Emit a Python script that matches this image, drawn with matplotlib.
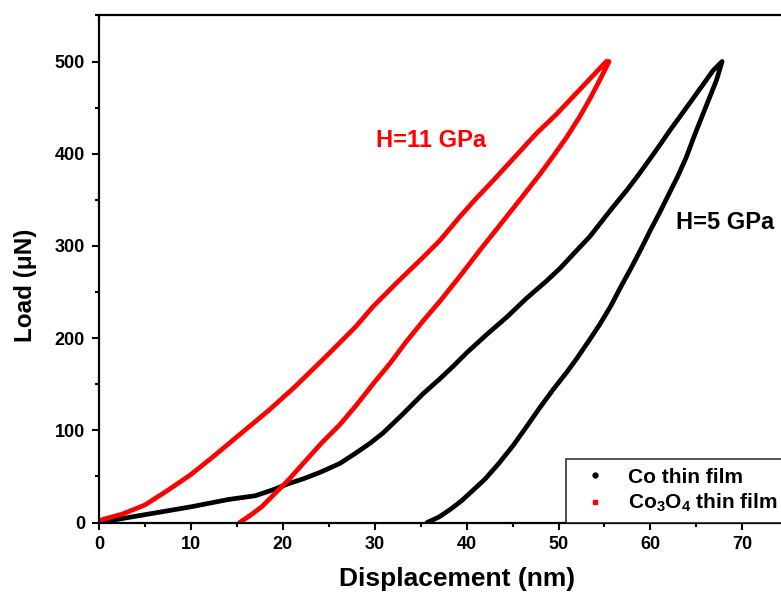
import matplotlib
matplotlib.use("Agg")
import matplotlib.pyplot as plt
from matplotlib.lines import Line2D
from matplotlib.ticker import MultipleLocator

plt.rcParams['font.family'] = ['Liberation Sans', 'DejaVu Sans']
plt.rcParams['font.weight'] = 'bold'
plt.rcParams['mathtext.fontset'] = 'custom'
plt.rcParams['mathtext.rm'] = 'Liberation Sans:bold'
plt.rcParams['mathtext.bf'] = 'Liberation Sans:bold'
plt.rcParams['mathtext.it'] = 'Liberation Sans:bold'

# Co3O4 thin film: loading then unloading
co3o4_load_x = [0, 0.3, 2.5, 5.0, 7.5, 10.0, 12.5, 15.5, 18.4, 21.3, 25.0, 27.9, 29.8, 32.5,
                35.3, 37.1, 39.3, 41.0, 42.9, 45.3, 47.6, 49.8, 51.6, 53.4, 55.2, 55.5]
co3o4_load_y = [0, 3, 9, 19, 35, 52, 72, 97, 121, 147, 183, 212, 234, 261,
                288, 306, 332, 351, 371, 397, 422, 443, 462, 481, 500, 500]
co3o4_unload_x = [55.5, 54.6, 53.5, 52.3, 50.9, 49.4, 48.0, 45.8, 43.5, 41.5, 39.5, 37.1, 35.3,
                  33.5, 31.7, 29.8, 27.9, 26.2, 24.2, 22.4, 20.6, 19.1, 17.7, 16.5, 15.3]
co3o4_unload_y = [500, 482, 461, 440, 418, 397, 378, 350, 321, 296, 270, 240, 219,
                  197, 173, 150, 126, 106, 86, 66, 46, 31, 17, 8, 0]

# Co thin film: loading then unloading
co_load_x = [0, 5.0, 10.0, 14.1, 17.0, 18.8, 20.6, 22.4, 24.2, 26.2, 27.9, 29.5, 30.9, 33.0,
             35.3, 37.0, 38.6, 40.0, 42.2, 44.4, 46.5, 48.7, 50.2, 51.6, 53.4, 54.5, 56.0,
             57.4, 58.7, 60.0, 61.0, 62.1, 63.2, 64.5, 65.8, 66.8, 67.8]
co_load_y = [0, 8.5, 17, 25, 29, 35, 42, 48, 55, 64, 75, 86, 97, 117,
             140, 155, 170, 184, 204, 223, 243, 262, 276, 291, 310, 324, 343,
             360, 377, 395, 409, 425, 440, 458, 476, 490, 500]
co_unload_x = [67.8, 67.2, 66.4, 65.6, 64.8, 63.9, 63.0, 62.0, 61.0, 60.0, 59.0, 57.9, 56.8,
               55.7, 54.5, 53.3, 52.0, 50.9, 49.4, 48.0, 46.6, 45.1, 43.5, 42.0, 40.7, 39.5,
               38.2, 37.0, 35.7]
co_unload_y = [500, 480, 460, 440, 420, 396, 376, 356, 336, 317, 297, 276, 256,
               235, 215, 197, 178, 163, 144, 125, 105, 84, 64, 47, 35, 24,
               14, 6, 0]

labels = ['Co thin film', r'Co$_{3}$O$_{4}$ thin film']
annot_11 = 'H=11 GPa'
annot_5 = 'H=5 GPa'

fig = plt.figure(figsize=(7.81, 5.95), dpi=100)
W, H = 781, 595
x0px, y0px, pxx, pxy = 99, 522.5, 9.19, 0.922
xmax, ymax = 75, 550
ax = fig.add_axes([x0px / W, (H - y0px) / H, xmax * pxx / W, ymax * pxy / H])

ax.plot(co_load_x + co_unload_x, co_load_y + co_unload_y, color='black', lw=3.4,
        solid_capstyle='round', solid_joinstyle='round')
ax.plot(co3o4_load_x + co3o4_unload_x, co3o4_load_y + co3o4_unload_y, color='red', lw=3.4,
        solid_capstyle='round', solid_joinstyle='round')

ax.set_xlim(0, xmax)
ax.set_ylim(0, ymax)
ax.xaxis.set_major_locator(MultipleLocator(10))
ax.xaxis.set_minor_locator(MultipleLocator(5))
ax.yaxis.set_major_locator(MultipleLocator(100))
ax.yaxis.set_minor_locator(MultipleLocator(50))
ax.tick_params(which='major', direction='out', length=5, width=1.5, labelsize=13, pad=5)
ax.tick_params(which='minor', direction='out', length=3, width=1.5)
for s in ax.spines.values():
    s.set_linewidth(1.6)
for lab in ax.get_xticklabels() + ax.get_yticklabels():
    lab.set_fontweight('bold')

ax.set_xlabel('Displacement (nm)', fontsize=19, fontweight='bold')
ax.set_ylabel('Load (\u03bcN)', fontsize=17.5, fontweight='bold')
ax.xaxis.set_label_coords(0.52, -0.087)
ax.yaxis.set_label_coords(-0.09, 0.467)

ax.text(30.1, 414, annot_11, color='red', fontsize=17, fontweight='bold', va='center', ha='left')
ax.text(62.8, 325, annot_5, color='black', fontsize=17, fontweight='bold', va='center', ha='left')

handles = [Line2D([], [], ls='none', marker='o', color='black', markersize=3.5),
           Line2D([], [], ls='none', marker='s', color='red', markersize=3.5)]
leg = ax.legend(handles, labels, loc='lower left', bbox_to_anchor=(0.678, 0.0),
                frameon=True, fancybox=False, edgecolor='black',
                prop={'weight': 'bold', 'size': 15}, borderaxespad=0, handletextpad=0.55,
                borderpad=0.4, labelspacing=0.25)
leg.get_frame().set_linewidth(1.2)

fig.savefig('out.png', dpi=100)
